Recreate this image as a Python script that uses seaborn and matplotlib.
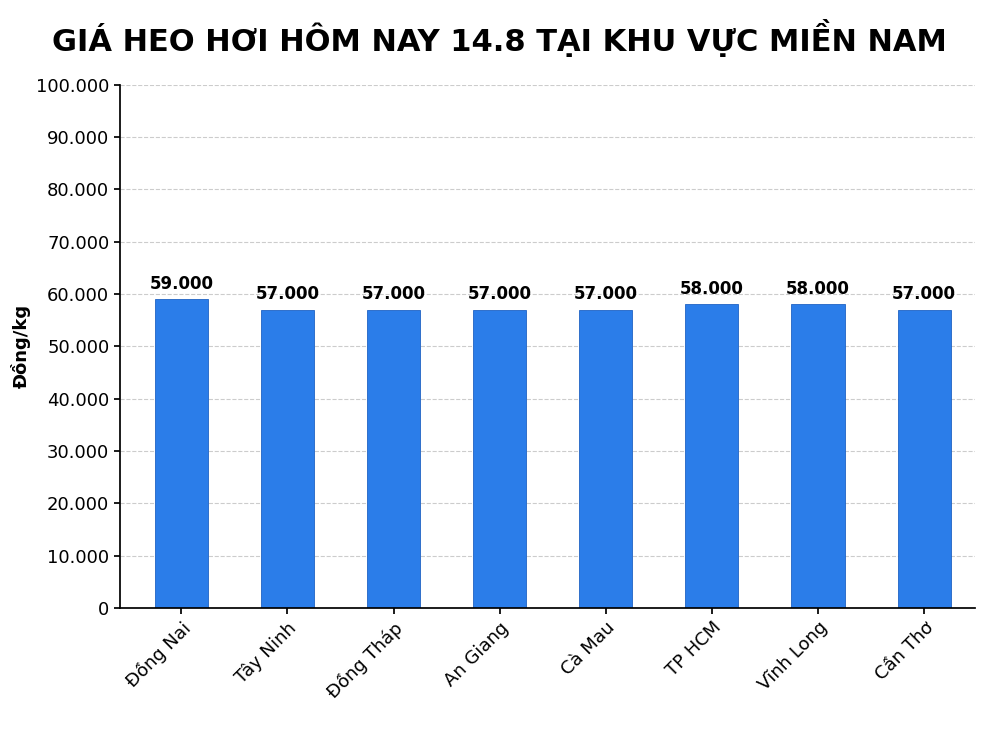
import matplotlib
matplotlib.use("Agg")
import matplotlib.pyplot as plt
import seaborn as sns
import pandas as pd
from matplotlib.ticker import FuncFormatter

regions = ["Đồng Nai", "Tây Ninh", "Đồng Tháp", "An Giang", "Cà Mau", "TP HCM", "Vĩnh Long", "Cần Thơ"]
prices = [59000, 57000, 57000, 57000, 57000, 58000, 58000, 57000]

sns.set_theme(style="white")
plt.rcParams['font.family'] = ['DejaVu Sans']
plt.rcParams['text.color'] = 'black'
plt.rcParams['xtick.color'] = 'black'
plt.rcParams['ytick.color'] = 'black'
plt.rcParams['axes.labelcolor'] = 'black'
df = pd.DataFrame({"region": regions, "price": prices})

fig = plt.figure(figsize=(9.98, 7.48), dpi=100)
ax = fig.add_axes([0.120, 0.187, 0.857, 0.700])
sns.barplot(data=df, x="region", y="price", color="#2b7de9", width=0.5, ax=ax, saturation=1)
for p in ax.patches:
    p.set_edgecolor("#1f63c4"); p.set_linewidth(0.6)
for i, v in enumerate(prices):
    ax.text(i, v + 1200, f"{v:,}".replace(",", "."), ha="center", va="bottom", fontsize=12, fontweight="bold", color="black")
ax.set_ylim(0, 100000)
ax.set_xlim(-0.58, 7.48)
ax.set_yticks(range(0, 100001, 10000))
ax.yaxis.set_major_formatter(FuncFormatter(lambda v, _: "0" if v == 0 else f"{int(v):,}".replace(",", ".")))
ax.yaxis.grid(True, linestyle="--", color="#cccccc", linewidth=0.8)
ax.set_axisbelow(True)
for s in ["top", "right"]:
    ax.spines[s].set_visible(False)
ax.spines["left"].set_color("black"); ax.spines["bottom"].set_color("black")
ax.tick_params(axis="y", labelsize=13, left=True, length=4)
ax.tick_params(axis="x", labelsize=13, bottom=True, length=4)
plt.setp(ax.get_xticklabels(), rotation=45, ha="right", rotation_mode="anchor")
ax.set_xlabel("")
ax.set_ylabel("Đồng/kg", fontsize=13, fontweight="bold")
fig.suptitle("GIÁ HEO HƠI HÔM NAY 14.8 TẠI KHU VỰC MIỀN NAM", fontsize=22, fontweight="heavy", color="black", y=0.975)
fig.savefig("out.png", dpi=100, facecolor="white")
